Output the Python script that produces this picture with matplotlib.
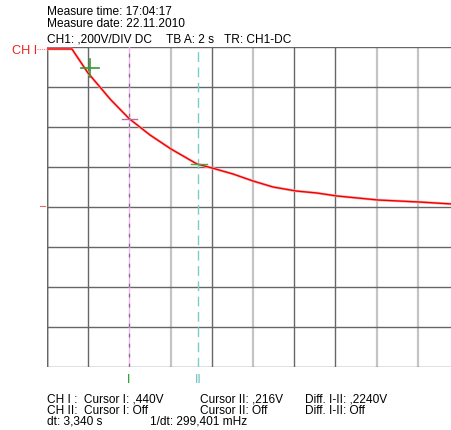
import matplotlib
matplotlib.use("Agg")
import matplotlib.pyplot as plt

plt.rcParams['font.family'] = ['Liberation Sans', 'DejaVu Sans']

# Data (time in s, voltage in V)
t_s = [0.0, 1.21, 1.60, 1.99, 2.57, 3.06, 3.98, 5.00, 6.02, 7.28, 8.01, 9.03,
       10.0, 10.97, 12.09, 13.10, 14.08, 16.07, 18.06, 19.66]
volts = [0.79, 0.79, 0.73, 0.67, 0.60, 0.54, 0.4425, 0.36, 0.29, 0.215, 0.195, 0.165,
         0.13, 0.10, 0.08, 0.07, 0.055, 0.035, 0.025, 0.015]

cursor_t = [3.98, 7.32]
cursor_v = [0.440, 0.216]
cursor_labels = ["I", "II"]
trig_t, trig_v = 2.09, 0.695

header_lines = ["Measure time: 17:04:17", "Measure date: 22.11.2010"]
header_row = ["CH1: ,200V/DIV DC", "TB A: 2 s", "TR: CH1-DC"]
footer_rows = [
    ["CH I :  Cursor I: ,440V", "Cursor II: ,216V", "Diff. I-II: ,2240V"],
    ["CH II:  Cursor I: Off", "Cursor II: Off", "Diff. I-II: Off"],
]
footer_dt = ["dt: 3,340 s", "1/dt: 299,401 mHz"]

W, H = 452, 431
fig = plt.figure(figsize=(W / 100, H / 100), dpi=100)
ax = fig.add_axes([47 / W, (H - 368) / H, 412 / W, 320 / H])
ax.set_xlim(0, 20)
ax.set_ylim(-0.8, 0.8)
for s in ax.spines.values():
    s.set_visible(False)
ax.set_xticks([])
ax.set_yticks([])

light_v = {3, 5, 8, 9}
for i in range(0, 11):
    x = i * 2
    if i == 2:
        continue
    if i in light_v:
        ax.axvline(x, color='#c4c4c4', lw=1.6, zorder=1)
    else:
        ax.axvline(x, color='#666666', lw=1.0, zorder=1)
for j in range(0, 9):
    y = -0.8 + j * 0.2
    ax.axhline(y, color='#666666', lw=1.0, zorder=1)
ax.axvline(0, color='#d0d0d0', lw=2.2, zorder=0.9)

# cursor I (magenta + dark dashed), cursor II (teal dashed)
ax.axvline(cursor_t[0], color='#f6b0f6', lw=1.0, zorder=2)
ax.axvline(4.0, color='#777777', lw=0.9, dashes=(3, 5), zorder=2.1)
ax.axvline(cursor_t[1], color='#77cccc', lw=1.0, dashes=(7, 4), zorder=2)

ax.plot(t_s, volts, color='#ffb0b0', lw=1.9, zorder=3)
ax.plot(t_s, volts, color='#ee0000', lw=1.0, zorder=4)

# cursor marks
ax.plot([cursor_t[0] - 0.35, cursor_t[0] + 0.4], [cursor_v[0], cursor_v[0]], color='#b070b0', lw=1.0, zorder=5)
ax.plot([cursor_t[1] - 0.35, cursor_t[1] + 0.45], [cursor_v[1], cursor_v[1]], color='#44aa44', lw=1.0, zorder=5)
ax.plot([trig_t - 0.45, trig_t + 0.45], [trig_v, trig_v], color='#339933', lw=1.2, zorder=5)
ax.plot([trig_t, trig_t], [trig_v - 0.045, trig_v + 0.045], color='#339933', lw=1.2, zorder=5)

def px(x, y, s, **kw):
    fig.text(x / W, 1 - y / H, s, va='center', ha='left', **kw)

fs = 8.6
px(47, 12, header_lines[0], fontsize=fs)
px(47, 24, header_lines[1], fontsize=fs)
px(47, 40, header_row[0], fontsize=fs)
px(166, 40, header_row[1], fontsize=fs)
px(224, 40, header_row[2], fontsize=fs)

px(12, 51, "CH I", fontsize=9.2, color='#ee2222')
fig.add_artist(plt.Line2D([37 / W, 47 / W], [1 - 50 / H, 1 - 50 / H], color='#ff7777', lw=0.8, ls=(0, (1, 1))))
fig.add_artist(plt.Line2D([40 / W, 45 / W], [1 - 207 / H, 1 - 207 / H], color='#ee6666', lw=0.8))

for k, lab in enumerate(cursor_labels):
    xp = 47 + cursor_t[k] / 2 * 41.2
    fig.text(xp / W, 1 - 380 / H, lab, ha='center', va='center', fontsize=8.7,
             color=['#119911', '#66bbbb'][k])

rows_y = [400, 411]
for r, row in enumerate(footer_rows):
    px(47, rows_y[r], row[0], fontsize=fs)
    px(200, rows_y[r], row[1], fontsize=fs)
    px(305, rows_y[r], row[2], fontsize=fs)
px(47, 422, footer_dt[0], fontsize=fs)
px(150, 422, footer_dt[1], fontsize=fs)

fig.savefig("out.png", dpi=100, facecolor='white')
